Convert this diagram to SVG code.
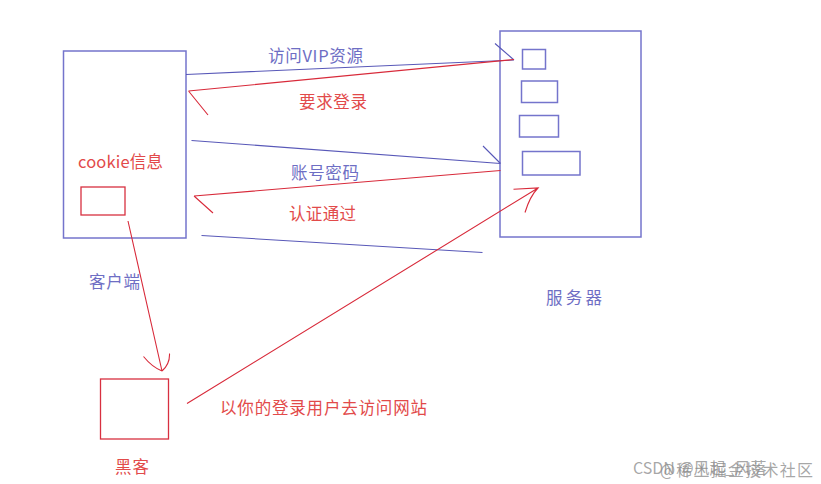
<svg xmlns="http://www.w3.org/2000/svg" width="821" height="484" viewBox="0 0 821 484">
<style>
.bbox{fill:none;stroke:#7474cc;stroke-width:1.5}
.rbox{fill:none;stroke:#d83040;stroke-width:1.3}
.bl{fill:none;stroke:#5858b8;stroke-width:1.1}
.rl{fill:none;stroke:#d82a3a;stroke-width:1.1}
.t{font-family:"Noto Sans CJK SC","Liberation Sans",sans-serif;font-size:16.5px}
.tb{fill:#6e6ec4}
.tr{fill:#e24a4a}
.wm{font-family:"Noto Sans CJK SC","Liberation Sans",sans-serif;font-size:16px;fill:#8a8a8a;fill-opacity:0.75}
</style>
<rect width="821" height="484" fill="#ffffff"/>
<g id="client">
<rect class="bbox" x="63.5" y="51" width="122.5" height="187"/>
<text class="t tb" x="89" y="288" textLength="51">客户端</text>
</g>
<g id="cookie">
<text class="t tr" x="78" y="168" textLength="85">cookie信息</text>
<rect class="rbox" x="81" y="187" width="44" height="28"/>
</g>
<g id="server">
<rect class="bbox" x="500" y="31" width="141" height="206"/>
<rect class="bbox" x="522.5" y="49.5" width="23" height="19.5"/>
<rect class="bbox" x="521.5" y="81" width="36" height="21.5"/>
<rect class="bbox" x="519.5" y="115.5" width="39" height="21.5"/>
<rect class="bbox" x="522.5" y="151.5" width="57.5" height="23.5"/>
<text class="t tb" x="546" y="304" textLength="56">服务器</text>
</g>
<g id="hacker">
<rect class="rbox" x="100.5" y="379" width="68" height="60"/>
<text class="t tr" x="115" y="473" textLength="34">黑客</text>
</g>
<g id="connectors">
<path class="bl" d="M186,74.5 L514,60 M495,43.5 L514,60"/>
<path class="rl" d="M514,59.5 L188.5,91 M188.5,91 L208,115"/>
<path class="bl" d="M191.5,140.5 L500.5,163.5 M483,146 L500.5,163.5"/>
<path class="rl" d="M500.5,170.5 L194,196 M194,196 L213,213"/>
<path class="bl" d="M201.5,235.5 L482.5,252.5"/>
<path class="rl" d="M187,403.5 L538,188 M513.5,189.3 L538,188 Q530,196 525,212.5"/>
<path class="rl" d="M128,221 L162,371 M143.5,356.5 Q152,367 162,371 M169.5,353.5 Q170,364 162,371"/>
</g>
<g id="labels">
<text class="t tb" x="268" y="62" textLength="95">访问VIP资源</text>
<text class="t tr" x="299" y="108" textLength="68">要求登录</text>
<text class="t tb" x="291" y="179" textLength="68">账号密码</text>
<text class="t tr" x="289" y="220" textLength="67">认证通过</text>
<text class="t tr" x="220" y="414" textLength="207">以你的登录用户去访问网站</text>
</g>
<g id="watermark">
<text class="wm" x="633" y="474">CSDN @风起_风落</text>
<text class="wm" x="660" y="476" textLength="153">@稀土掘金技术社区</text>
</g>
</svg>
